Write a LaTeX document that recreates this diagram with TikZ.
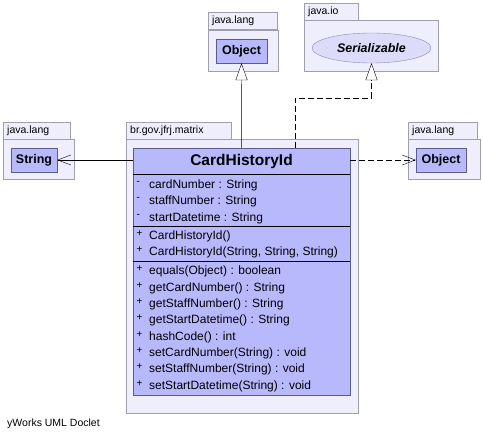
\documentclass[tikz,border=0pt]{standalone}
\usepackage{fontspec}
\setmainfont{Liberation Sans}
\usetikzlibrary{positioning,arrows.meta,shapes.geometric}

\definecolor{pkgfill}{RGB}{238,238,252}
\definecolor{pkgline}{RGB}{160,160,172}
\definecolor{clsfill}{RGB}{184,184,252}
\definecolor{clsline}{RGB}{92,92,138}
\definecolor{ifcfill}{RGB}{220,220,250}
\definecolor{ifcline}{RGB}{140,140,172}

\begin{document}
\begin{tikzpicture}[x=1pt, y=-1pt,
  pkg/.style={draw=pkgline, fill=pkgfill, anchor=north west, inner sep=0pt},
  tab/.style={pkg, inner xsep=4pt, minimum height=17pt, align=left,
    font=\fontsize{10.5}{12}\selectfont},
  cls/.style={draw=clsline, fill=clsfill, inner sep=0pt,
    font=\bfseries\fontsize{12.5}{14}\selectfont},
  mem/.style={anchor=west, inner sep=0pt, font=\fontsize{12}{14}\selectfont},
  vis/.style={anchor=west, inner sep=0pt, font=\fontsize{10}{12}\selectfont},
  sep/.style={draw=black},
  inherit/.style={-{Triangle[open, length=17pt, width=12pt, fill=white]}},
  uses/.style={-{Straight Barb[length=13pt, width=10pt]}}]
	\useasboundingbox (0,0) rectangle (483,441);

	% packages
	\node[tab, text width=61pt] (langTopTab) at (208,12) {java.lang};
	\node[pkg, minimum width=70pt, minimum height=41pt] (langTop) at (208,30) {};
	\node[tab, text width=46pt] (ioTab) at (304,3) {java.io};
	\node[pkg, minimum width=134pt, minimum height=51pt] (io) at (304,20) {};
	\node[tab, text width=59pt] (langLeftTab) at (3,122) {java.lang};
	\node[pkg, minimum width=71pt, minimum height=40pt] (langLeft) at (3,139) {};
	\node[tab, text width=97pt] (matrixTab) at (126,122) {br.gov.jfrj.matrix};
	\node[pkg, minimum width=232pt, minimum height=274pt] (matrix) at (126,139) {};
	\node[tab, text width=61pt] (langRightTab) at (408,122) {java.lang};
	\node[pkg, minimum width=72pt, minimum height=40pt] (langRight) at (408,139) {};

	% classes
	\node[cls, minimum width=51pt, minimum height=24pt] (objTop) at (241.5,51) {Object};
	\node[ellipse, draw=ifcline, fill=ifcfill, minimum width=119pt, minimum height=30pt,
	  inner sep=0pt, font=\bfseries\itshape\fontsize{12.5}{14}\selectfont] (ser) at (371.5,48) {Serializable};
	\node[cls, minimum width=46pt, minimum height=24pt] (str) at (34,160) {String};
	\node[cls, minimum width=50pt, minimum height=24pt] (objRight) at (441,160) {Object};

	\node[cls, anchor=north west, minimum width=217pt, minimum height=247pt] (card) at (133,148) {};
	\node[inner sep=0pt, font=\bfseries\fontsize{15.5}{18}\selectfont] (title) at (241.5,161.5) {CardHistoryId};
	\draw[sep] (card.west |- 0,174.5) -- (card.east |- 0,174.5);
	\draw[sep] (card.west |- 0,226.5) -- (card.east |- 0,226.5);
	\draw[sep] (card.west |- 0,261.5) -- (card.east |- 0,261.5);

	% members
	\foreach \yy/\mk/\txt [count=\i] in {
	    185/-/{cardNumber : String},
	    201.5/-/{staffNumber : String},
	    218/-/{startDatetime : String},
	    236/+/{CardHistoryId()},
	    252.5/+/{CardHistoryId(String, String, String)},
	    271.5/+/{equals(Object) : boolean},
	    288/+/{getCardNumber() : String},
	    304.5/+/{getStaffNumber() : String},
	    320.5/+/{getStartDatetime() : String},
	    337/+/{hashCode() : int},
	    353/+/{setCardNumber(String) : void},
	    369.5/+/{setStaffNumber(String) : void},
	    386/+/{setStartDatetime(String) : void}} {
		\node[vis] (v\i) at (136.5,\yy-2.5) {\mk};
		\node[mem] (m\i) at (149,\yy) {\txt};
	}

	% relations
	\coordinate (bend) at (295,98);
	\draw[inherit] (card.north) -- (objTop.south);
	\draw[inherit, dash pattern=on 6pt off 3pt] (card.north -| bend) -- (bend) -| (ser.south);
	\draw[uses] (card.west |- str) -- (str.east);
	\draw[uses, dash pattern=on 6pt off 3pt] (card.east |- objRight) -- (objRight.west);

	\node[anchor=west, inner sep=0pt, font=\fontsize{10.5}{12}\selectfont] (doclet) at (7,424) {yWorks UML Doclet};
\end{tikzpicture}
\end{document}
